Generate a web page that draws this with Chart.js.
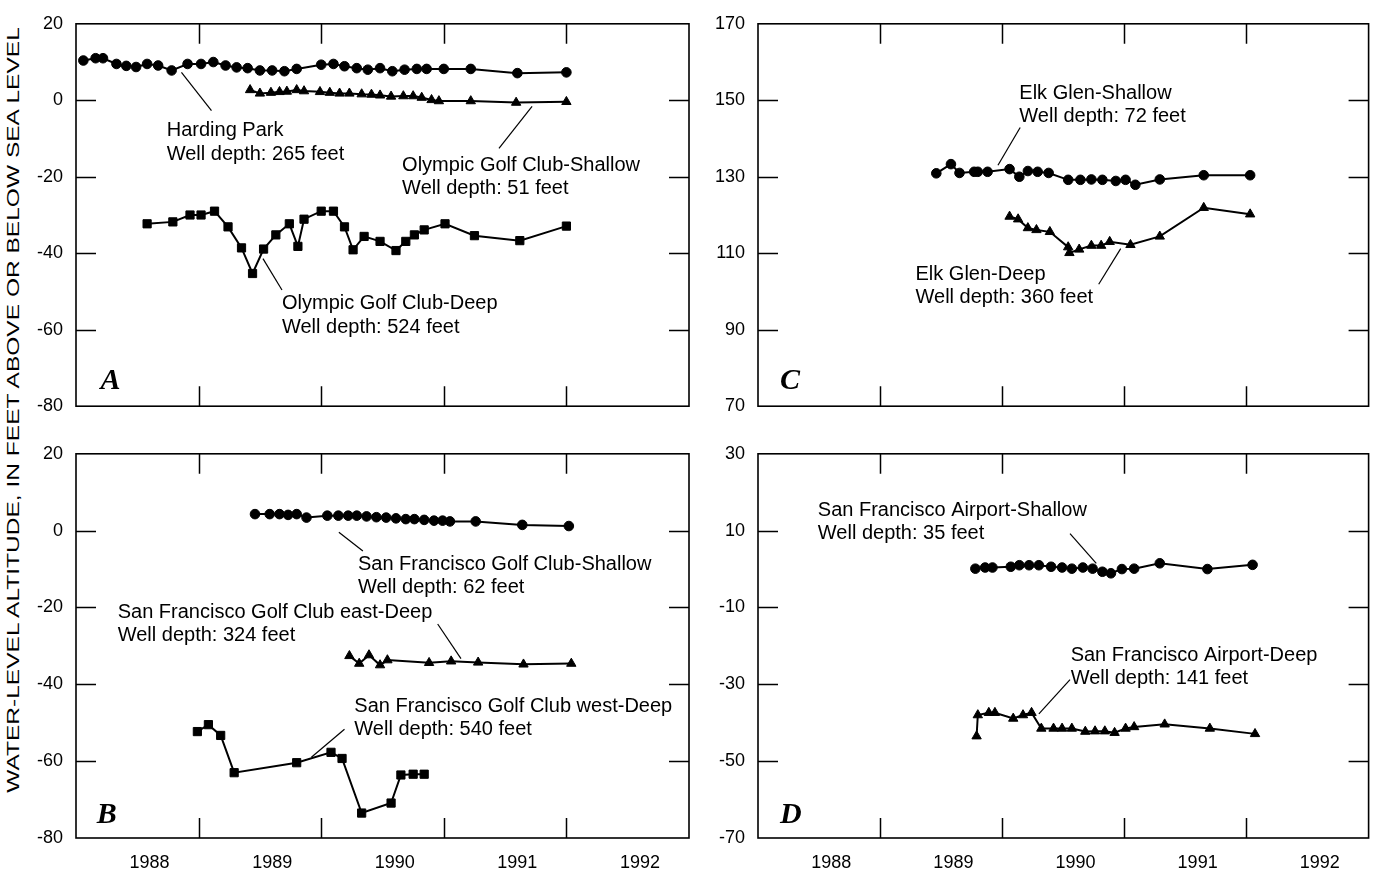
<!DOCTYPE html>
<html lang="en">
<head>
<meta charset="UTF-8">
<title>Water-level altitude, selected wells</title>
<script src="https://cdn.jsdelivr.net/npm/chart.js"></script>
<style>
  body { margin: 0; background: #fff; }
  #wrap { position: relative; width: 1375px; height: 880px; overflow: hidden; }
  canvas { position: absolute; }
  #ytitle {
    position: absolute;
    font: 16px "Liberation Sans", Arial, Helvetica, sans-serif;
    white-space: nowrap;
    color: #000;
    transform-origin: center center;
  }
</style>
</head>
<body>
<div id="wrap">
  <div id="ytitle">WATER-LEVEL ALTITUDE, IN FEET ABOVE OR BELOW SEA LEVEL</div>
  <canvas id="panelA" width="700" height="430" style="left:0;top:0"></canvas>
  <canvas id="panelB" width="700" height="450" style="left:0;top:430px"></canvas>
  <canvas id="panelC" width="675" height="430" style="left:700px;top:0"></canvas>
  <canvas id="panelD" width="675" height="450" style="left:700px;top:430px"></canvas>
</div>

<script>
// years shown under the bottom panels (labels sit inside each year span)
const yearLabels = [1988, 1989, 1990, 1991, 1992];

// --- A ---
const hardingYears = [1988.06, 1988.16, 1988.22, 1988.33, 1988.41, 1988.49, 1988.58, 1988.67, 1988.78, 1988.91,
  1989.02, 1989.12, 1989.22, 1989.31, 1989.40, 1989.50, 1989.60, 1989.70, 1989.80, 1990.00, 1990.10, 1990.19,
  1990.29, 1990.38, 1990.48, 1990.58, 1990.68, 1990.78, 1990.86, 1991.00, 1991.22, 1991.60, 1992.00];
const hardingLevels = [10.4, 11.0, 11.0, 9.5, 9.0, 8.7, 9.5, 9.1, 7.8, 9.5,
  9.5, 10.0, 9.1, 8.6, 8.4, 7.8, 7.8, 7.6, 8.2, 9.3, 9.5, 8.9,
  8.4, 8.0, 8.4, 7.6, 8.0, 8.2, 8.2, 8.2, 8.2, 7.1, 7.3];

const olyShallowYears = [1989.42, 1989.50, 1989.59, 1989.66, 1989.72, 1989.80, 1989.86, 1989.99, 1990.07, 1990.15,
  1990.23, 1990.33, 1990.41, 1990.48, 1990.57, 1990.67, 1990.75, 1990.82, 1990.90, 1990.96, 1991.22, 1991.59, 1992.00];
const olyShallowLevels = [2.7, 1.8, 2.0, 2.2, 2.3, 2.7, 2.4, 2.2, 2.0, 1.8,
  1.8, 1.6, 1.5, 1.3, 1.0, 1.1, 1.1, 0.7, 0.1, -0.2, -0.2, -0.6, -0.4];

const olyDeepYears = [1988.58, 1988.79, 1988.93, 1989.02, 1989.13, 1989.24, 1989.35, 1989.44, 1989.53, 1989.63,
  1989.74, 1989.81, 1989.86, 1990.00, 1990.10, 1990.19, 1990.26, 1990.35, 1990.48, 1990.61, 1990.69, 1990.76,
  1990.84, 1991.01, 1991.25, 1991.62, 1992.00];
const olyDeepLevels = [-32.3, -31.8, -30.0, -30.0, -29.0, -33.1, -38.6, -45.3, -38.9, -35.2,
  -32.3, -38.2, -31.1, -29.0, -29.0, -33.1, -39.1, -35.6, -36.9, -39.3, -36.9, -35.2,
  -33.9, -32.3, -35.4, -36.7, -32.9];

// --- B ---
const sfShallowYears = [1989.46, 1989.58, 1989.66, 1989.73, 1989.80, 1989.88, 1990.05, 1990.14, 1990.22, 1990.29,
  1990.37, 1990.45, 1990.53, 1990.61, 1990.69, 1990.76, 1990.84, 1990.92, 1990.99, 1991.05, 1991.26, 1991.64, 1992.02];
const sfShallowLevels = [4.3, 4.3, 4.3, 4.1, 4.3, 3.4, 3.9, 3.9, 3.9, 3.9,
  3.7, 3.5, 3.4, 3.2, 3.0, 3.0, 2.8, 2.6, 2.6, 2.4, 2.4, 1.5, 1.2];

const sfEastYears = [1990.23, 1990.31, 1990.39, 1990.48, 1990.54, 1990.88, 1991.06, 1991.28, 1991.65, 1992.04];
const sfEastLevels = [-32.6, -34.6, -32.4, -35.0, -33.7, -34.4, -34.0, -34.3, -34.8, -34.6];

const sfWestYears = [1988.99, 1989.08, 1989.18, 1989.29, 1989.80, 1990.08, 1990.17, 1990.33, 1990.57, 1990.65, 1990.75, 1990.84];
const sfWestLevels = [-52.3, -50.5, -53.3, -63.0, -60.4, -57.7, -59.3, -73.5, -70.9, -63.6, -63.4, -63.4];

// --- C ---
const elkShallowYears = [1989.46, 1989.58, 1989.65, 1989.77, 1989.80, 1989.88, 1990.06, 1990.14, 1990.21, 1990.29,
  1990.38, 1990.54, 1990.64, 1990.73, 1990.82, 1990.93, 1991.01, 1991.09, 1991.29, 1991.65, 1992.03];
const elkShallowLevels = [130.9, 133.3, 131.0, 131.3, 131.3, 131.3, 132.0, 130.0, 131.5, 131.3,
  131.0, 129.2, 129.2, 129.3, 129.2, 128.9, 129.2, 127.9, 129.3, 130.4, 130.4];

const elkDeepYears = [1990.06, 1990.13, 1990.21, 1990.28, 1990.39, 1990.54, 1990.55, 1990.63, 1990.73, 1990.81,
  1990.88, 1991.05, 1991.29, 1991.65, 1992.03];
const elkDeepLevels = [119.6, 118.9, 116.6, 116.1, 115.6, 111.6, 110.1, 111.0, 112.0, 112.0,
  113.0, 112.2, 114.4, 121.9, 120.2];

// --- D ---
const airShallowYears = [1989.78, 1989.86, 1989.92, 1990.07, 1990.14, 1990.22, 1990.30, 1990.40, 1990.49, 1990.57,
  1990.66, 1990.74, 1990.82, 1990.89, 1990.98, 1991.08, 1991.29, 1991.68, 1992.05];
const airShallowLevels = [0.1, 0.4, 0.4, 0.6, 1.0, 1.0, 1.0, 0.6, 0.4, 0.1,
  0.4, 0.1, -0.7, -1.1, 0.0, 0.1, 1.5, 0.0, 1.1];

const airDeepYears = [1989.79, 1989.80, 1989.89, 1989.94, 1990.09, 1990.17, 1990.24, 1990.32, 1990.42, 1990.49,
  1990.57, 1990.68, 1990.76, 1990.84, 1990.92, 1991.01, 1991.08, 1991.33, 1991.70, 1992.07];
const airDeepLevels = [-43.5, -38.0, -37.4, -37.4, -38.9, -38.0, -37.4, -41.5, -41.5, -41.5,
  -41.5, -42.3, -42.2, -42.2, -42.6, -41.5, -41.1, -40.4, -41.5, -42.9];

const FONT = '"Liberation Sans", Arial, Helvetica, sans-serif';
const TICK = 20;
const NOTE_SIZE = 20;
const NOTE_GAP = 23.5;

Chart.defaults.font.family = FONT;
Chart.defaults.color = '#000';

const markers = {
  circle:   { pointStyle: 'circle',   pointRadius: 4.8 },
  square:   { pointStyle: 'rect',     pointRadius: 5.8 },
  triangle: { pointStyle: 'triangle', pointRadius: 5.4 }
};

// frame, inward ticks, notes with leader lines, panel letter
function panelDecor(notes, letter) {
  return {
    id: 'panelDecor',
    afterDraw(chart) {
      const { ctx, chartArea: a } = chart;
      const x = chart.scales.x, y = chart.scales.y;
      ctx.save();
      ctx.strokeStyle = '#000';
      ctx.lineWidth = 1.6;
      ctx.strokeRect(a.left, a.top, a.right - a.left, a.bottom - a.top);

      ctx.lineWidth = 1.5;
      ctx.beginPath();
      yearLabels.slice(1).forEach(v => {
        const px = Math.round(x.getPixelForValue(v)) + 0.5;
        ctx.moveTo(px, a.bottom); ctx.lineTo(px, a.bottom - TICK);
        ctx.moveTo(px, a.top); ctx.lineTo(px, a.top + TICK);
      });
      y.ticks.forEach(t => {
        if (t.value <= y.min || t.value >= y.max) return;
        const py = Math.round(y.getPixelForValue(t.value)) + 0.5;
        ctx.moveTo(a.left, py); ctx.lineTo(a.left + TICK, py);
        ctx.moveTo(a.right, py); ctx.lineTo(a.right - TICK, py);
      });
      ctx.stroke();

      ctx.lineWidth = 1.2;
      ctx.fillStyle = '#000';
      ctx.font = NOTE_SIZE + 'px ' + FONT;
      ctx.textBaseline = 'middle';
      ctx.textAlign = 'left';
      notes.forEach(n => {
        const tx = x.getPixelForValue(n.x), ty = y.getPixelForValue(n.y);
        n.lines.forEach((s, i) => ctx.fillText(s, tx, ty + i * NOTE_GAP));
        const [x1, y1, x2, y2] = n.leader;
        ctx.beginPath();
        ctx.moveTo(x.getPixelForValue(x1), y.getPixelForValue(y1));
        ctx.lineTo(x.getPixelForValue(x2), y.getPixelForValue(y2));
        ctx.stroke();
      });

      ctx.font = 'italic bold 30px "Liberation Serif", "Times New Roman", serif';
      ctx.fillText(letter.text, x.getPixelForValue(letter.x), y.getPixelForValue(letter.y));
      ctx.restore();
    }
  };
}

function makePanel(id, p) {
  return new Chart(document.getElementById(id), {
    type: 'line',
    data: {
      datasets: p.series.map(s => Object.assign({
        data: s.years.map((t, i) => ({ x: t, y: s.levels[i] })),
        borderColor: '#000',
        backgroundColor: '#000',
        pointBackgroundColor: '#000',
        pointBorderColor: '#000',
        pointBorderWidth: 1,
        borderWidth: 2,
        tension: 0,
        fill: false
      }, markers[s.marker]))
    },
    options: {
      responsive: false,
      animation: false,
      devicePixelRatio: 1,
      layout: { padding: p.padding },
      plugins: { legend: { display: false }, tooltip: { enabled: false } },
      scales: {
        x: {
          type: 'linear',
          min: 1988,
          max: 1993,
          // year labels sit a little right of mid-year, as in the printed figure
          afterBuildTicks: s => { s.ticks = yearLabels.map(v => ({ value: v + 0.6 })); },
          afterFit: s => { s.height = p.xHeight; },
          ticks: {
            display: p.showYears,
            autoSkip: false,
            maxRotation: 0,
            padding: 14,
            font: { size: 18 },
            color: '#000',
            callback: (v, i) => String(yearLabels[i])
          },
          grid: { display: false, drawTicks: false },
          border: { display: false }
        },
        y: {
          min: p.yMin,
          max: p.yMax,
          afterFit: s => { s.width = p.yWidth; },
          ticks: { stepSize: 20, padding: 13, font: { size: 18 }, color: '#000' },
          grid: { display: false, drawTicks: false },
          border: { display: false }
        }
      }
    },
    plugins: [panelDecor(p.notes, p.letter)]
  });
}

makePanel('panelA', {
  yMin: -80, yMax: 20, yWidth: 76, xHeight: 0, showYears: false,
  padding: { top: 19, right: 11, bottom: 20, left: 0 },
  series: [
    { years: hardingYears, levels: hardingLevels, marker: 'circle' },
    { years: olyShallowYears, levels: olyShallowLevels, marker: 'triangle' },
    { years: olyDeepYears, levels: olyDeepLevels, marker: 'square' }
  ],
  notes: [
    { x: 1988.74, y: -7.9, lines: ['Harding Park', 'Well depth: 265 feet'], leader: [1988.86, 7.3, 1989.105, -2.7] },
    { x: 1990.66, y: -17.0, lines: ['Olympic Golf Club-Shallow', 'Well depth: 51 feet'], leader: [1991.72, -1.6, 1991.45, -12.6] },
    { x: 1989.68, y: -53.2, lines: ['Olympic Golf Club-Deep', 'Well depth: 524 feet'], leader: [1989.525, -41.4, 1989.68, -49.6] }
  ],
  letter: { text: 'A', x: 1988.2, y: -73.4 }
});

makePanel('panelB', {
  yMin: -80, yMax: 20, yWidth: 76, xHeight: 42, showYears: true,
  padding: { top: 20, right: 11, bottom: 0, left: 0 },
  series: [
    { years: sfShallowYears, levels: sfShallowLevels, marker: 'circle' },
    { years: sfEastYears, levels: sfEastLevels, marker: 'triangle' },
    { years: sfWestYears, levels: sfWestLevels, marker: 'square' }
  ],
  notes: [
    { x: 1990.30, y: -8.8, lines: ['San Francisco Golf Club-Shallow', 'Well depth: 62 feet'], leader: [1990.144, -0.4, 1990.34, -5.3] },
    { x: 1988.34, y: -21.2, lines: ['San Francisco Golf Club east-Deep', 'Well depth: 324 feet'], leader: [1990.95, -24.3, 1991.14, -33.3] },
    { x: 1990.27, y: -45.7, lines: ['San Francisco Golf Club west-Deep', 'Well depth: 540 feet'], leader: [1989.92, -59.0, 1990.19, -51.7] }
  ],
  letter: { text: 'B', x: 1988.17, y: -74.1 }
});

makePanel('panelC', {
  yMin: 70, yMax: 170, yWidth: 58, xHeight: 0, showYears: false,
  padding: { top: 21, right: 5, bottom: 21, left: 0 },
  series: [
    { years: elkShallowYears, levels: elkShallowLevels, marker: 'circle' },
    { years: elkDeepYears, levels: elkDeepLevels, marker: 'triangle' }
  ],
  notes: [
    { x: 1990.14, y: 151.8, lines: ['Elk Glen-Shallow', 'Well depth: 72 feet'], leader: [1990.147, 142.9, 1989.965, 133.0] },
    { x: 1989.29, y: 104.5, lines: ['Elk Glen-Deep', 'Well depth: 360 feet'], leader: [1990.97, 111.2, 1990.79, 101.9] }
  ],
  letter: { text: 'C', x: 1988.18, y: 76.5 }
});

makePanel('panelD', {
  yMin: -70, yMax: 30, yWidth: 58, xHeight: 42, showYears: true,
  padding: { top: 21, right: 5, bottom: 0, left: 0 },
  series: [
    { years: airShallowYears, levels: airShallowLevels, marker: 'circle' },
    { years: airDeepYears, levels: airDeepLevels, marker: 'triangle' }
  ],
  notes: [
    { x: 1988.49, y: 15.3, lines: ['San Francisco Airport-Shallow', 'Well depth: 35 feet'], leader: [1990.555, 9.2, 1990.77, 1.5] },
    { x: 1990.56, y: -22.4, lines: ['San Francisco Airport-Deep', 'Well depth: 141 feet'], leader: [1990.30, -37.7, 1990.555, -28.8] }
  ],
  letter: { text: 'D', x: 1988.18, y: -64.1 }
});

// shared y title, stretched along its length like the original
(function () {
  const el = document.getElementById('ytitle');
  const w = el.offsetWidth, h = el.offsetHeight;
  const span = 765, cx = 13, cy = 410;
  el.style.left = (cx - w / 2) + 'px';
  el.style.top = (cy - h / 2) + 'px';
  el.style.transform = 'rotate(-90deg) scaleX(' + (span / w) + ')';
})();
</script>
</body>
</html>
